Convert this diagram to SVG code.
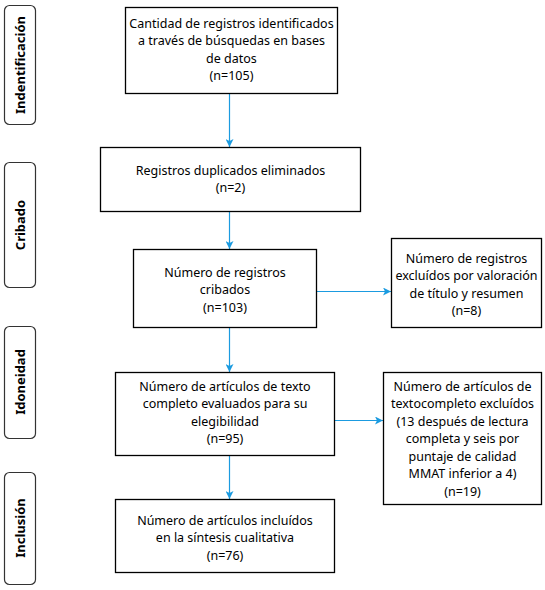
<svg xmlns="http://www.w3.org/2000/svg" width="545" height="590" viewBox="0 0 545 590">
<style>
.box{fill:#fff;stroke:#000;stroke-width:1.3}
.lab{fill:#fff;stroke:#333;stroke-width:1.2}
.t{font-family:"Noto Sans","Open Sans",sans-serif;font-size:12.5px;fill:#000;text-anchor:middle}
.s{font-family:"Noto Sans","Open Sans",sans-serif;font-size:13px;font-weight:bold;fill:#000;text-anchor:middle}
.c{stroke:#1b9be0;stroke-width:1.2;fill:none;marker-end:url(#ah)}
</style>
<defs>
<marker id="ah" markerWidth="8" markerHeight="8" refX="8" refY="4" orient="auto" markerUnits="userSpaceOnUse">
<path d="M0,0 L8,4 L0,8 L2,4 Z" fill="#1b9be0"/>
</marker>
</defs>
<rect width="545" height="590" fill="#fff"/>
<g id="stages">
<g id="stage-identificacion"><rect class="lab" x="4.5" y="5.5" width="31" height="119" rx="5"/><text class="s" transform="translate(24.5,65) rotate(-90)">Indentificación</text></g>
<g id="stage-cribado"><rect class="lab" x="4.5" y="162.5" width="31" height="125" rx="5"/><text class="s" transform="translate(24.5,225) rotate(-90)">Cribado</text></g>
<g id="stage-idoneidad"><rect class="lab" x="4.5" y="326.5" width="31" height="112" rx="5"/><text class="s" transform="translate(24.5,382) rotate(-90)">Idoneidad</text></g>
<g id="stage-inclusion"><rect class="lab" x="4.5" y="472.5" width="31" height="112" rx="5"/><text class="s" transform="translate(24.5,528) rotate(-90)">Inclusión</text></g>
</g>
<g id="connectors">
<line class="c" x1="229.5" y1="93" x2="229.5" y2="147"/>
<line class="c" x1="229.5" y1="211" x2="229.5" y2="249"/>
<line class="c" x1="229.5" y1="327" x2="229.5" y2="372"/>
<line class="c" x1="229.5" y1="455" x2="229.5" y2="499"/>
<line class="c" x1="316" y1="291.5" x2="391" y2="291.5"/>
<line class="c" x1="334" y1="420.5" x2="383" y2="420.5"/>
</g>
<g id="n1"><rect class="box" x="125.5" y="7.5" width="212" height="86"/>
<text class="t"><tspan x="231.5" y="27.5">Cantidad de registros identificados</tspan><tspan x="231.5" y="45">a través de búsquedas en bases</tspan><tspan x="231.5" y="62.5">de datos</tspan><tspan x="231.5" y="80">(n=105)</tspan></text></g>
<g id="n2"><rect class="box" x="100.5" y="147.5" width="260" height="64"/>
<text class="t"><tspan x="230.5" y="174.5">Registros duplicados eliminados</tspan><tspan x="230.5" y="192">(n=2)</tspan></text></g>
<g id="n3"><rect class="box" x="133.5" y="249.5" width="183" height="78"/>
<text class="t"><tspan x="225" y="276.5">Número de registros</tspan><tspan x="225" y="294">cribados</tspan><tspan x="225" y="311.5">(n=103)</tspan></text></g>
<g id="n4"><rect class="box" x="391.5" y="238.5" width="150" height="89"/>
<text class="t"><tspan x="466.5" y="262.5">Número de registros</tspan><tspan x="466.5" y="280">excluídos por valoración</tspan><tspan x="466.5" y="297.5">de título y resumen</tspan><tspan x="466.5" y="315">(n=8)</tspan></text></g>
<g id="n5"><rect class="box" x="115.5" y="372.5" width="219" height="83"/>
<text class="t"><tspan x="225" y="390.5">Número de artículos de texto</tspan><tspan x="225" y="408">completo evaluados para su</tspan><tspan x="225" y="425.5">elegibilidad</tspan><tspan x="225" y="443">(n=95)</tspan></text></g>
<g id="n6"><rect class="box" x="383.5" y="372.5" width="158" height="132"/>
<text class="t"><tspan x="462.5" y="390.5">Número de artículos de</tspan><tspan x="462.5" y="408">textocompleto excluídos</tspan><tspan x="462.5" y="425.5">(13 después de lectura</tspan><tspan x="462.5" y="443">completa y seis por</tspan><tspan x="462.5" y="460.5">puntaje de calidad</tspan><tspan x="462.5" y="478">MMAT inferior a 4)</tspan><tspan x="462.5" y="495.5">(n=19)</tspan></text></g>
<g id="n7"><rect class="box" x="115.5" y="499.5" width="219" height="73"/>
<text class="t"><tspan x="225" y="524.5">Número de artículos incluídos</tspan><tspan x="225" y="542">en la síntesis cualitativa</tspan><tspan x="225" y="559.5">(n=76)</tspan></text></g>
</svg>
